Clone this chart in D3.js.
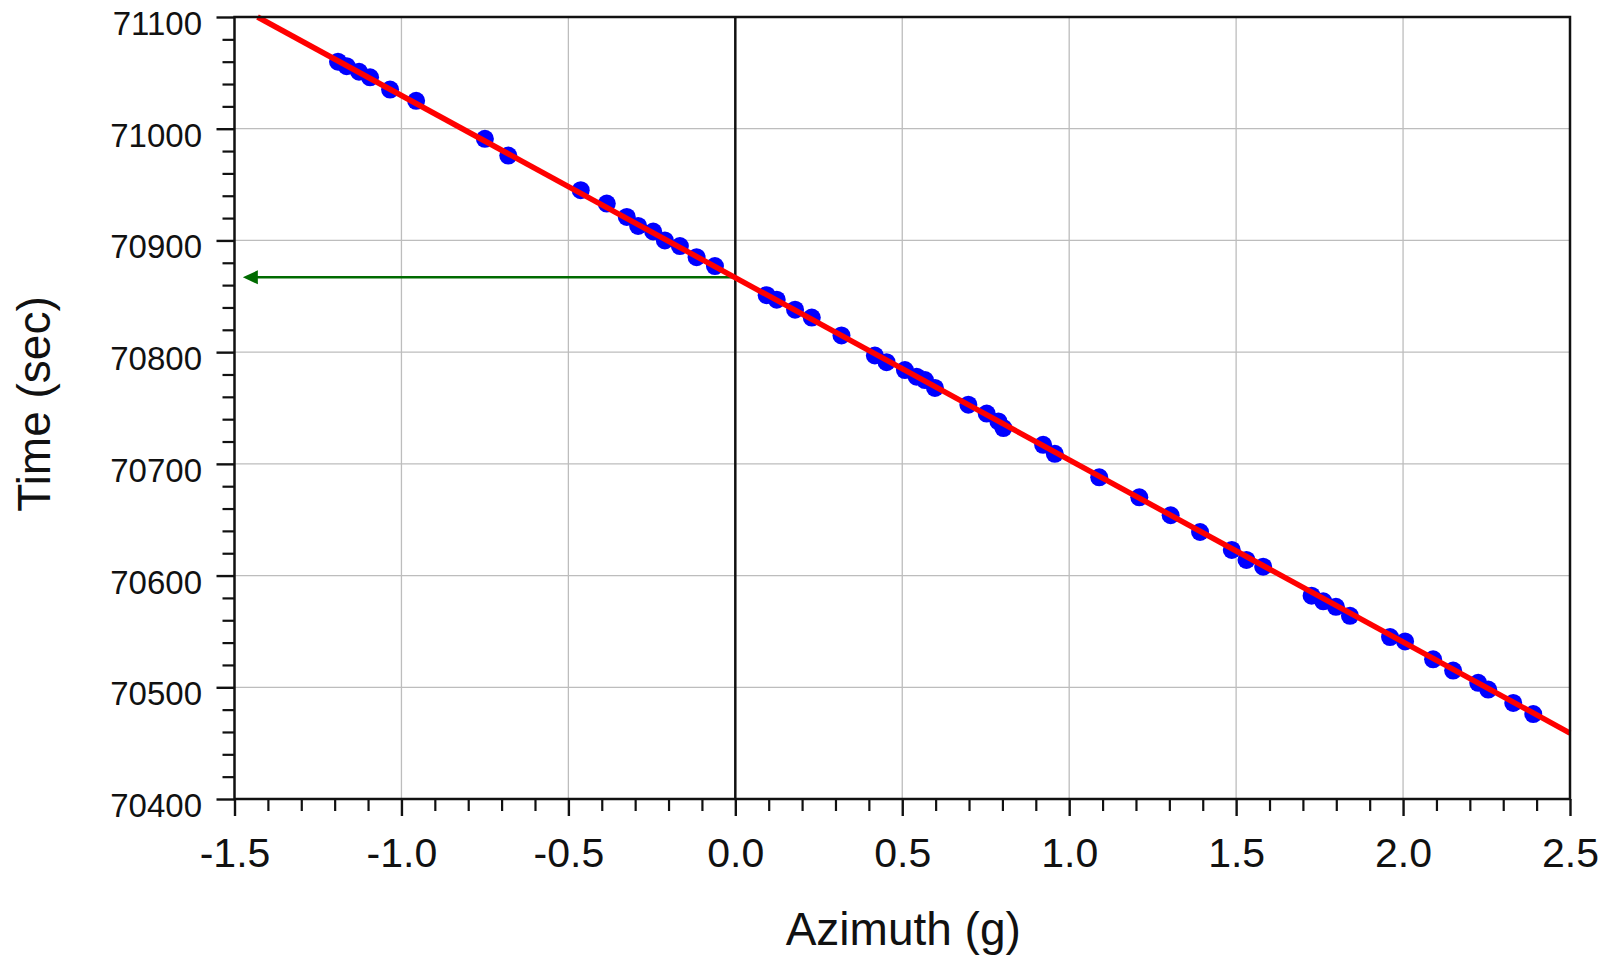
<!DOCTYPE html>
<html>
<head>
<meta charset="utf-8">
<script src="https://cdn.jsdelivr.net/npm/d3@7"></script>
<style>
  html, body { margin: 0; padding: 0; background: #fff; }
  svg { display: block; font-family: "Liberation Sans", Arial, Helvetica, sans-serif; }
</style>
</head>
<body>
<svg id="chart" width="1609" height="958"></svg>
<script>
// ---- data ----
const azimuth = [
  -1.190, -1.164, -1.127, -1.094, -1.034, -0.956, -0.750, -0.680, -0.463, -0.385,
  -0.325, -0.291, -0.246, -0.211, -0.166, -0.116, -0.061,
   0.094,  0.124,  0.179,  0.229,  0.318,  0.418,  0.453,  0.508,  0.543,
   0.568,  0.598,  0.698,  0.753,  0.788,  0.803,  0.922,  0.957,  1.090,
   1.210,  1.304,  1.392,  1.487,  1.531,
   1.581,  1.726,  1.761,  1.799,  1.841,  1.961,  2.006,  2.090,  2.150,
   2.225,  2.255,  2.330,  2.390
];
const timeSec = [
  71060, 71056, 71051, 71046, 71035, 71025, 70991, 70976, 70945, 70933,
  70921, 70913, 70908, 70900, 70895, 70885, 70877,
  70851, 70847, 70838, 70831, 70815, 70797, 70791, 70784, 70778,
  70775, 70768, 70753, 70745, 70738, 70732, 70717, 70709, 70688,
  70670, 70654, 70639, 70623, 70614,
  70608, 70582, 70577, 70572, 70564, 70545, 70541, 70525, 70515,
  70504, 70498, 70486, 70476
];
const fitAzimuth = [-1.431, 2.5];
const fitTime = [71100, 70459];
const arrowAzimuth = [0, -1.475];
const arrowTime = [70867, 70867];

const xDomain = [-1.5, 2.5];
const yDomain = [70400, 71100];
const xMajorTicks = [-1.5, -1.0, -0.5, 0.0, 0.5, 1.0, 1.5, 2.0, 2.5];
const xTickLabels = ["-1.5", "-1.0", "-0.5", "0.0", "0.5", "1.0", "1.5", "2.0", "2.5"];
const yMajorTicks = [70400, 70500, 70600, 70700, 70800, 70900, 71000, 71100];
const yTickLabels = ["70400", "70500", "70600", "70700", "70800", "70900", "71000", "71100"];
const xMinorStep = 0.1;
const yMinorStep = 20;
const xTitle = "Azimuth (g)";
const yTitle = "Time (sec)";

// ---- layout ----
const pLeft = 234.5, pRight = 1570, pTop = 17, pBottom = 799;
const svg = d3.select("#chart");
const x = d3.scaleLinear().domain(xDomain).range([pLeft, pRight]);
const y = d3.scaleLinear().domain(yDomain).range([pBottom, pTop]);

const xMinor = d3.range(Math.round((xDomain[1] - xDomain[0]) / xMinorStep) + 1)
  .map(i => +(xDomain[0] + i * xMinorStep).toFixed(2))
  .filter(v => !xMajorTicks.some(m => Math.abs(m - v) < 1e-6));
const yMinor = d3.range(Math.round((yDomain[1] - yDomain[0]) / yMinorStep) + 1)
  .map(i => yDomain[0] + i * yMinorStep)
  .filter(v => !yMajorTicks.includes(v));

// grid
const grid = svg.append("g").attr("stroke", "#bdbdbd").attr("stroke-width", 1.3);
grid.selectAll("line.gx").data(xMajorTicks.slice(1, -1)).join("line")
  .attr("x1", d => x(d)).attr("x2", d => x(d)).attr("y1", pTop).attr("y2", pBottom);
grid.selectAll("line.gy").data(yMajorTicks.slice(1, -1)).join("line")
  .attr("x1", pLeft).attr("x2", pRight).attr("y1", d => y(d)).attr("y2", d => y(d));

// zero vertical line
svg.append("line")
  .attr("x1", x(0)).attr("x2", x(0)).attr("y1", pTop).attr("y2", pBottom)
  .attr("stroke", "#111").attr("stroke-width", 2.5);

// green arrow
const arrowG = svg.append("g");
const ax0 = x(arrowAzimuth[0]), ax1 = x(arrowAzimuth[1]), ay = y(arrowTime[0]);
arrowG.append("line")
  .attr("x1", ax0).attr("x2", ax1 + 12).attr("y1", ay).attr("y2", y(arrowTime[1]))
  .attr("stroke", "#006b00").attr("stroke-width", 2.5);
arrowG.append("path")
  .attr("d", `M${ax1},${ay} L${ax1 + 15},${ay - 7} L${ax1 + 15},${ay + 7} Z`)
  .attr("fill", "#006b00");

// points
const pts = azimuth.map((a, i) => ({a, t: timeSec[i]}));
svg.append("g").selectAll("circle").data(pts).join("circle")
  .attr("cx", d => x(d.a)).attr("cy", d => y(d.t)).attr("r", 9)
  .attr("fill", "#0000ff");

// fit line
const fit = fitAzimuth.map((a, i) => ({a, t: fitTime[i]}));
svg.append("path").datum(fit)
  .attr("d", d3.line().x(d => x(d.a)).y(d => y(d.t)))
  .attr("fill", "none").attr("stroke", "#ff0000").attr("stroke-width", 5.5)
  .attr("stroke-linecap", "butt");

// axes: minor ticks
const gxMinor = svg.append("g").attr("transform", `translate(0,${pBottom})`)
  .call(d3.axisBottom(x).tickValues(xMinor).tickSize(12).tickFormat(""));
const gyMinor = svg.append("g").attr("transform", `translate(${pLeft},0)`)
  .call(d3.axisLeft(y).tickValues(yMinor).tickSize(12).tickFormat(""));
[gxMinor, gyMinor].forEach(g => {
  g.select(".domain").remove();
  g.selectAll("line").attr("stroke", "#111").attr("stroke-width", 2.2);
});

// axes: major ticks + labels
const gx = svg.append("g").attr("transform", `translate(0,${pBottom})`)
  .call(d3.axisBottom(x).tickValues(xMajorTicks).tickSize(17).tickPadding(22)
    .tickFormat((d, i) => xTickLabels[i]));
gx.select(".domain").remove();
gx.selectAll("line").attr("stroke", "#111").attr("stroke-width", 2.4);
gx.selectAll("text").attr("font-size", 41).attr("fill", "#111")
  .attr("font-family", "'Liberation Sans', Arial, sans-serif");

const gy = svg.append("g").attr("transform", `translate(${pLeft},0)`)
  .call(d3.axisLeft(y).tickValues(yMajorTicks).tickSize(18).tickPadding(14.5)
    .tickFormat((d, i) => yTickLabels[i]));
gy.select(".domain").remove();
gy.selectAll("line").attr("stroke", "#111").attr("stroke-width", 2.4);
gy.selectAll("text").attr("font-size", 33).attr("fill", "#111").attr("dy", "0.53em")
  .attr("font-family", "'Liberation Sans', Arial, sans-serif");

// frame
svg.append("rect")
  .attr("x", pLeft).attr("y", pTop).attr("width", pRight - pLeft).attr("height", pBottom - pTop)
  .attr("fill", "none").attr("stroke", "#111").attr("stroke-width", 2.5);

// titles
svg.append("text")
  .attr("x", (pLeft + pRight) / 2 + 1).attr("y", 945)
  .attr("text-anchor", "middle").attr("font-size", 46).attr("fill", "#111")
  .text(xTitle);
svg.append("text")
  .attr("transform", `translate(50,${(pTop + pBottom) / 2 - 4}) rotate(-90)`)
  .attr("text-anchor", "middle").attr("font-size", 46).attr("fill", "#111")
  .text(yTitle);
</script>
</body>
</html>
